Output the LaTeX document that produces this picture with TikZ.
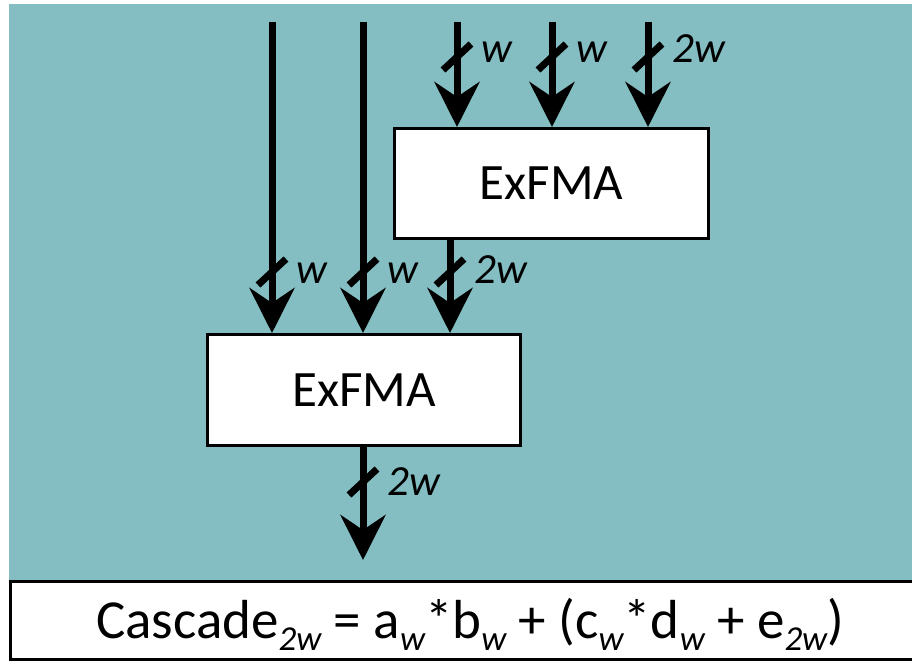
\documentclass[tikz,border=0pt]{standalone}
\usepackage{fontspec}
\setmainfont{Carlito}
\usetikzlibrary{arrows.meta}
\definecolor{panel}{RGB}{132,190,194}
% lowered italic subscript used in the formula line
\newcommand{\lowsub}[1]{\raisebox{-12pt}{\fontsize{35}{35}\selectfont\itshape #1}}
% bus-width mark: slash across a wire plus its width label
% #1 = wire x, #2 = slash centre y, #3 = label baseline y, #4 = text, #5 = node name
\newcommand{\busmark}[5]{%
  \draw[tick] (#1-14,#2+13) -- (#1+14,#2-13);
  \node[wlabel] (#5) at (#1+24,#3) {#4};}
\begin{document}
\begin{tikzpicture}[x=1pt,y=-1pt,
  box/.style={draw=black,line width=3pt,fill=white,inner sep=0pt,
    font=\fontsize{51}{51}\selectfont},
  bus/.style={line width=7pt,-{Stealth[length=45pt,width=45pt,inset=15pt]}},
  tick/.style={line width=7pt},
  wlabel/.style={anchor=base west,inner sep=0pt,
    font=\fontsize{43}{43}\selectfont\itshape}]
\useasboundingbox (0,0) rectangle (912,661);
\fill[panel] (9,4) rectangle (912,580);

% the two multiply-add units
\node[box,minimum width=314pt,minimum height=110pt] (upper) at (551.5,183.5) {ExFMA};
\node[box,minimum width=313pt,minimum height=111pt] (lower) at (364,390) {ExFMA};

% result line
\begin{scope}
\clip (0,0) rectangle (912,661);
\node[draw=black,line width=3.5pt,fill=white,inner sep=0pt,
  minimum width=909.5pt,minimum height=78pt] (resultbox) at (465.25,620.5) {};
\end{scope}
\node[anchor=base,inner sep=0pt,font=\fontsize{55}{55}\selectfont] (formula) at (470,638)
  {Cascade\lowsub{2w} = a\lowsub{w}*b\lowsub{w} + (c\lowsub{w}*d\lowsub{w} + e\lowsub{2w})};

% wire end points
\coordinate (inA) at (272,22);
\coordinate (inB) at (363,22);
\coordinate (inC) at (457,22);
\coordinate (inD) at (552,22);
\coordinate (inE) at (648,22);
\coordinate (midx) at (450,240);
\coordinate (outEnd) at (363,560);

% wires
\draw[bus] (inA) -- (lower.north -| inA);
\draw[bus] (inB) -- (lower.north -| inB);
\draw[bus] (inC) -- (upper.north -| inC);
\draw[bus] (inD) -- (upper.north -| inD);
\draw[bus] (inE) -- (upper.north -| inE);
\draw[bus] (upper.south -| midx) -- (lower.north -| midx);
\draw[bus] (lower.south -| outEnd) -- (outEnd);

% widths
\busmark{457}{57}{63}{w}{wc}
\busmark{552}{57}{63}{w}{wd}
\busmark{648}{57}{63}{2w}{we}
\busmark{272}{272}{283}{w}{wa}
\busmark{363}{272}{283}{w}{wb}
\busmark{450}{272}{283}{2w}{wm}
\busmark{363}{482}{495}{2w}{wo}
\end{tikzpicture}
\end{document}
